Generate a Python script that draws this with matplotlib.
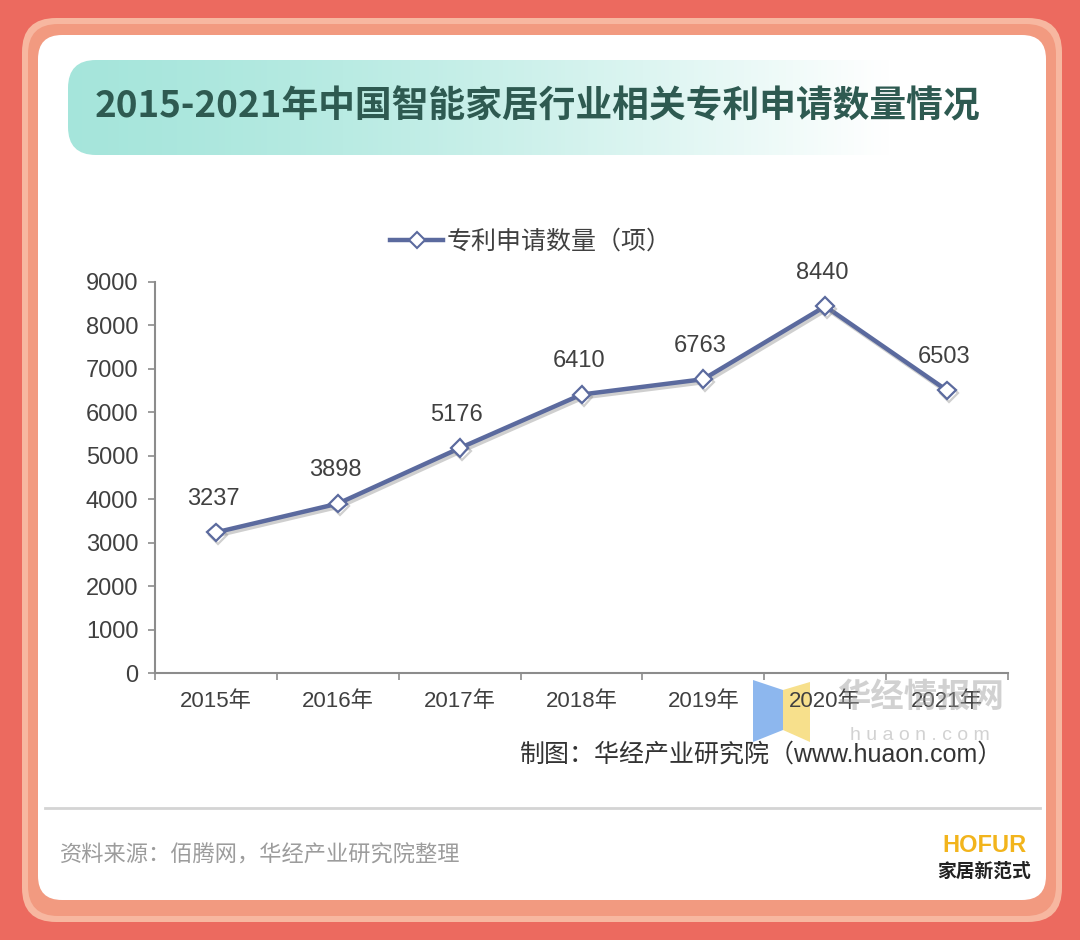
import matplotlib
matplotlib.use("Agg")
import matplotlib.pyplot as plt
import matplotlib.patheffects as pe
from matplotlib.patches import FancyBboxPatch, Polygon
from matplotlib.lines import Line2D
import numpy as np

# --- dados ---
anos = ["2015年", "2016年", "2017年", "2018年", "2019年", "2020年", "2021年"]
patentes = [3237, 3898, 5176, 6410, 6763, 8440, 6503]
y_ticks = [0, 1000, 2000, 3000, 4000, 5000, 6000, 7000, 8000, 9000]
titulo = "2015-2021年中国智能家居行业相关专利申请数量情况"
legenda = "专利申请数量（项）"
fonte = "资料来源：佰腾网，华经产业研究院整理"
credito = "制图：华经产业研究院（www.huaon.com）"

plt.rcParams['font.family'] = ['Liberation Sans', 'Noto Sans CJK SC']

W, H = 1080, 940
fig = plt.figure(figsize=(W / 100, H / 100), dpi=100, facecolor="#EC6A5F")
tr = fig.dpi_scale_trans


def box(x0, y0, x1, y1, r, color, z=0):
    # retângulo arredondado em pixels (origem no topo)
    p = FancyBboxPatch((x0 / 100, (H - y1) / 100), (x1 - x0) / 100, (y1 - y0) / 100,
                       boxstyle="round,pad=0,rounding_size=%f" % (r / 100),
                       transform=tr, facecolor=color, edgecolor="none", zorder=z)
    fig.add_artist(p)
    return p


def fx(x):
    return x / W


def fy(y):
    return 1 - y / H


def px(x, y):
    return (x / 100, (H - y) / 100)


# --- moldura ---
box(22, 18, 1062, 922, 34, "#F7B7A0")
box(28, 24, 1056, 916, 30, "#F29A80")
box(38, 35, 1046, 900, 24, "white")

# --- faixa do título com gradiente ---
bax = fig.add_axes([fx(68), fy(155), fx(1000 - 68), 95 / H], zorder=1)
bax.axis("off")
t = np.linspace(0, 1, 400)
k = np.clip(t / 0.88, 0, 1) ** 1.4
teal = np.array([0.65, 0.90, 0.86])
img = teal[None, :] * (1 - k[:, None]) + np.ones(3)[None, :] * k[:, None]
im = bax.imshow(img[None, :, :], aspect="auto", extent=(0, 1, 0, 1))
clip = FancyBboxPatch(px(68, 155), 932 / 100, 95 / 100,
                      boxstyle="round,pad=0,rounding_size=0.28", transform=tr,
                      facecolor="none", edgecolor="none")
im.set_clip_path(clip)
fig.text(fx(537), fy(107), titulo, ha="center", va="center", fontsize=26.5,
         fontweight="bold", color="#2E5A51", family=['Noto Sans CJK SC'], zorder=3)

# --- gráfico ---
ax = fig.add_axes([fx(155), fy(673), fx(853), 391 / H], zorder=2)
ax.patch.set_alpha(0)
x = np.arange(len(anos))
cor = "#5B6A9E"
ax.plot(x, patentes, color=cor, lw=3.2, marker="D", markersize=9,
        markerfacecolor="white", markeredgecolor=cor, markeredgewidth=1.6,
        solid_joinstyle="round",
        path_effects=[pe.SimpleLineShadow(offset=(1.5, -2), shadow_color="#888888", alpha=0.4),
                      pe.Normal()])
for xi, v in zip(x, patentes):
    ax.annotate(str(v), (xi, v), xytext=(-2, 16), textcoords="offset points",
                ha="center", va="bottom", fontsize=17, color="#404040")

ax.set_xlim(-0.5, len(anos) - 0.5)
ax.set_ylim(0, 9000)
ax.set_yticks(y_ticks)
ax.set_xticks(x)
ax.set_xticklabels(anos)
ax.set_xticks(np.arange(-0.5, len(anos)), minor=True)
for s in ["top", "right"]:
    ax.spines[s].set_visible(False)
for s in ["left", "bottom"]:
    ax.spines[s].set_color("#8C8C8C")
    ax.spines[s].set_linewidth(1.5)
ax.tick_params(axis="y", length=5, width=1.2, color="#8C8C8C", pad=7,
               labelsize=17, labelcolor="#404040")
ax.tick_params(axis="x", which="major", length=0, pad=13, labelsize=16, labelcolor="#404040")
ax.tick_params(axis="x", which="minor", length=5, width=1.2, color="#8C8C8C")

leg_h = Line2D([], [], color=cor, lw=3.2, marker="D", markersize=8,
               markerfacecolor="white", markeredgecolor=cor, markeredgewidth=1.5)
ax.legend([leg_h], [legenda], loc="center", bbox_to_anchor=(fx(531), fy(242)),
          bbox_transform=fig.transFigure, frameon=False, fontsize=18,
          handlelength=2.1, handletextpad=0.15, labelcolor="#404040")

# --- marca d'água ---
fig.add_artist(Polygon([px(753, 680), px(783, 690), px(783, 730), px(753, 742)],
                       closed=True, transform=tr, facecolor="#8DB7EE", edgecolor="none", zorder=1))
fig.add_artist(Polygon([px(783, 690), px(810, 682), px(810, 742), px(783, 730)],
                       closed=True, transform=tr, facecolor="#F7E08C", edgecolor="none", zorder=1))
fig.text(fx(920), fy(697), "华经情报网", ha="center", va="center", fontsize=24,
         fontweight="bold", color="#9A9A9A", alpha=0.45, family=['Noto Sans CJK SC'], zorder=4)
fig.text(fx(920), fy(735), "h u a o n . c o m", ha="center", va="center", fontsize=14,
         color="#C0C0C0", alpha=0.7, zorder=4)
fig.text(fx(1003), fy(755), credito, ha="right", va="center", fontsize=18, color="#333333", zorder=4)

# --- rodapé ---
fig.add_artist(Line2D([fx(45), fx(1040)], [fy(808), fy(808)], transform=fig.transFigure,
                      color="#D4D4D4", lw=2, zorder=3))
fig.text(fx(60), fy(856), fonte, ha="left", va="center", fontsize=16, color="#9C9C9C", zorder=3)
fig.text(fx(984), fy(845), "HOFUR", ha="center", va="center", fontsize=17,
         fontweight="bold", color="#F2B41C", zorder=3)
fig.text(fx(984), fy(871), "家居新范式", ha="center", va="center", fontsize=13.5,
         fontweight="bold", color="#222222", family=['Noto Sans CJK SC'], zorder=3)

fig.savefig("out.png", dpi=100, facecolor=fig.get_facecolor())
